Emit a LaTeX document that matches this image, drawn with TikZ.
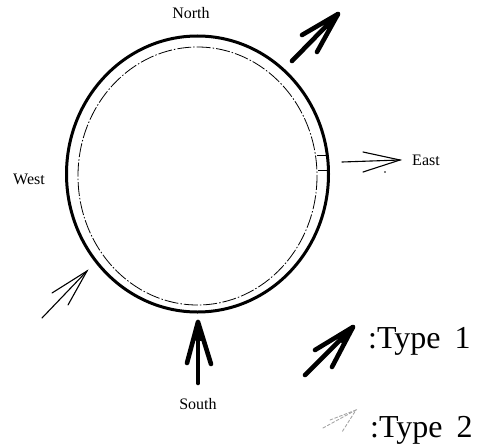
\documentclass[tikz,border=0pt]{standalone}
\usepackage{fontspec}
\usetikzlibrary{calc}
\setmainfont{Liberation Serif}
\begin{document}
\begin{tikzpicture}[x=1pt,y=-1pt,
  typeone/.style={line width=4.6pt,line cap=round,line join=round},
  typetwo/.style={line width=1.1pt,line cap=round},
  typetwolegend/.style={line width=0.9pt,line cap=round,gray!70,dash pattern=on 3pt off 2pt},
  dirlabel/.style={font=\fontsize{16}{18}\selectfont,inner sep=0pt},
  legendlabel/.style={font=\fontsize{32}{35}\selectfont,inner sep=0pt,anchor=west}]
\useasboundingbox (0,0) rectangle (492,444);
% circles
\draw[line width=3pt] (197.5,174) ellipse [x radius=131, y radius=138];
\draw[line width=0.8pt,dash pattern=on 14pt off 2pt on 1.5pt off 2pt] (197.5,176) ellipse [x radius=119.5, y radius=129];
% ticks on inner circle
\coordinate (ta1) at (317,155); \coordinate (ta2) at (327,155);
\coordinate (tb1) at (318,170); \coordinate (tb2) at (327,170);
\draw[line width=0.8pt] (ta1) -- (ta2);
\draw[line width=0.8pt] (tb1) -- (tb2);
% labels
\node[dirlabel] (north) at (191,13) {North};
\node[dirlabel] (south) at (198,404) {South};
\node[dirlabel] (east) at (426,160) {East};
\node[dirlabel] (west) at (29,179) {West};
% North type 1 arrow
\coordinate (ns) at (292,61); \coordinate (nt) at (338,14);
\coordinate (nb1) at (302,35); \coordinate (nb2) at (317,52);
\draw[typeone] (ns) -- (nt);
\draw[typeone] (nb1) -- (nt) -- (nb2);
\fill (nt) -- ($(nt)!0.45!(nb1)$) -- ($(nt)!0.45!(nb2)$) -- cycle;
% South type 1 arrow
\coordinate (ss) at (198,383); \coordinate (st) at (198,322);
\coordinate (sb1) at (187,363); \coordinate (sb2) at (211,364);
\draw[typeone] (ss) -- (st);
\draw[typeone] (sb1) -- (st) -- (sb2);
\fill (st) -- ($(st)!0.45!(sb1)$) -- ($(st)!0.45!(sb2)$) -- cycle;
% East type 2 arrow
\coordinate (es) at (342,162); \coordinate (et) at (400,160);
\coordinate (eb1) at (363,152); \coordinate (eb2) at (363,172);
\draw[typetwo] (es) -- (et);
\draw[typetwo] (eb1) -- (et) -- (eb2);
\fill (385,172) circle (0.9);
% West type 2 arrow
\coordinate (ws) at (42,318); \coordinate (wt) at (87,271);
\coordinate (wb1) at (52,293); \coordinate (wb2) at (68,305);
\draw[typetwo] (ws) -- (wt);
\draw[typetwo] (wb1) -- (wt) -- (wb2);
% Legend type 1
\coordinate (l1s) at (305,375); \coordinate (l1t) at (353,327);
\coordinate (l1b1) at (315,350); \coordinate (l1b2) at (332,367);
\draw[typeone] (l1s) -- (l1t);
\draw[typeone] (l1b1) -- (l1t) -- (l1b2);
\fill (l1t) -- ($(l1t)!0.45!(l1b1)$) -- ($(l1t)!0.45!(l1b2)$) -- cycle;
\node[legendlabel] (leg1) at (368,341) {:Type\hspace{14pt}1};
% Legend type 2
\coordinate (l2s) at (323,428); \coordinate (l2t) at (356,410);
\coordinate (l2b1) at (330,420); \coordinate (l2b2) at (342,432);
\draw[typetwolegend] (l2s) -- (l2t);
\draw[typetwolegend] (l2b1) -- (l2t) -- (l2b2);
\node[legendlabel] (leg2) at (370,430) {:Type\hspace{14pt}2};
\end{tikzpicture}
\end{document}
